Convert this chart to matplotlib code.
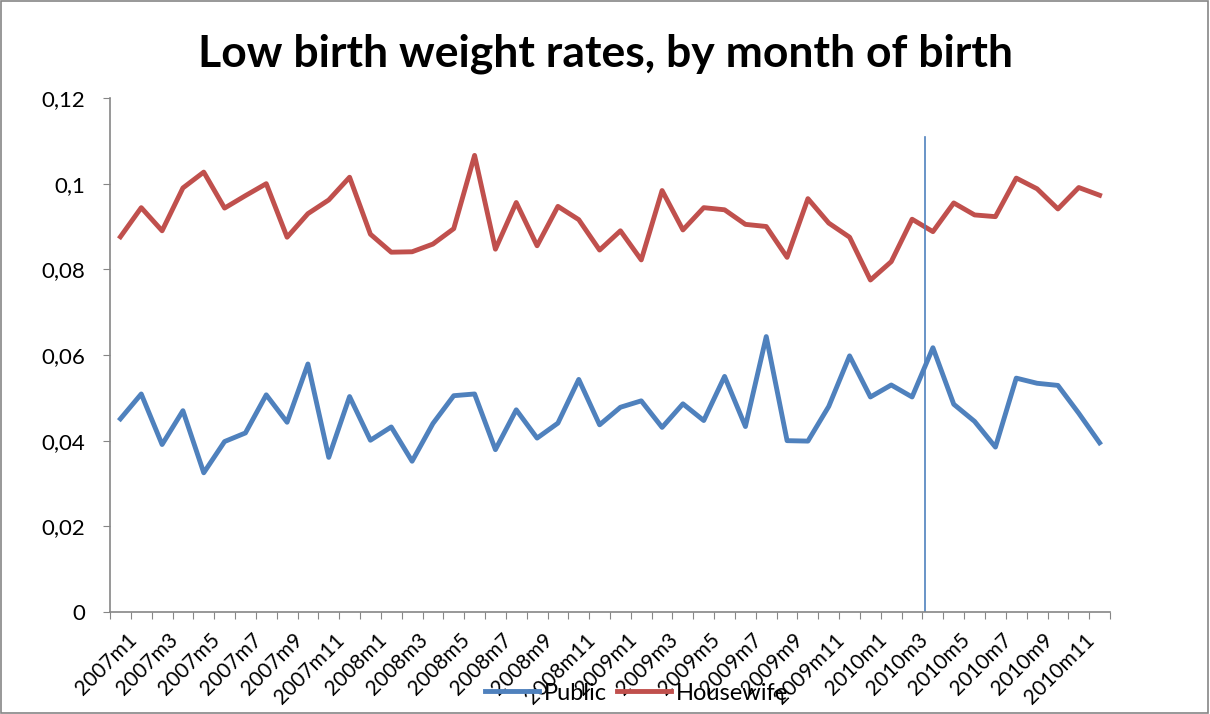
import numpy as np
import matplotlib.pyplot as plt
from matplotlib.patches import Rectangle
from matplotlib.transforms import ScaledTranslation

# months 2007m1 .. 2010m12
months = [f"{y}m{m}" for y in range(2007, 2011) for m in range(1, 13)]

public = [0.0451, 0.0509, 0.0391, 0.0470, 0.0325, 0.0398, 0.0418, 0.0507, 0.0443, 0.0579,
          0.0361, 0.0503, 0.0401, 0.0432, 0.0352, 0.0440, 0.0505, 0.0509, 0.0379, 0.0472,
          0.0406, 0.0441, 0.0543, 0.0437, 0.0478, 0.0493, 0.0431, 0.0486, 0.0447, 0.0550,
          0.0433, 0.0643, 0.0400, 0.0399, 0.0480, 0.0598, 0.0502, 0.0530, 0.0502, 0.0617,
          0.0485, 0.0445, 0.0385, 0.0546, 0.0534, 0.0529, 0.0464, 0.0395]

housewife = [0.0876, 0.0944, 0.0890, 0.0990, 0.1027, 0.0943, 0.0972, 0.1000, 0.0875, 0.0930,
             0.0962, 0.1015, 0.0882, 0.0840, 0.0841, 0.0859, 0.0895, 0.1066, 0.0847, 0.0956,
             0.0855, 0.0947, 0.0916, 0.0845, 0.0890, 0.0822, 0.0984, 0.0892, 0.0944, 0.0939,
             0.0905, 0.0900, 0.0828, 0.0965, 0.0908, 0.0875, 0.0775, 0.0818, 0.0917, 0.0888,
             0.0955, 0.0927, 0.0923, 0.1013, 0.0988, 0.0941, 0.0991, 0.0973]

# vertical marker line (category position, top value)
marker_x = 38.6
marker_top = 0.111

yticks = [0, 0.02, 0.04, 0.06, 0.08, 0.1, 0.12]
ytick_labels = ["0", "0,02", "0,04", "0,06", "0,08", "0,1", "0,12"]

plt.rcParams['font.family'] = ['Lato', 'DejaVu Sans']

fig = plt.figure(figsize=(12.1, 7.14), dpi=100)
ax = fig.add_axes([110 / 1210, 102 / 714, 1000 / 1210, 514 / 714])

x = np.arange(len(months))
ax.plot(x, public, color='#4F81BD', lw=3.5, solid_joinstyle='round', label='Public')
ax.plot(x, housewife, color='#C0504D', lw=3.5, solid_joinstyle='round', label='Housewife')
ax.plot([marker_x, marker_x], [0, marker_top], color='#4F81BD', lw=1.2)

ax.set_xlim(-0.5, len(months) - 0.5)
ax.set_ylim(0, 0.12)
ax.set_yticks(yticks)
ax.set_yticklabels(ytick_labels, fontsize=16)

# tick marks between categories, labels on every second month
ax.set_xticks(np.arange(-0.5, len(months), 1.0))
ax.set_xticklabels([])
ax.set_xticks(x[::2], minor=True)
ax.set_xticklabels(months[::2], minor=True, rotation=45, ha='right', va='top',
                   rotation_mode='anchor', fontsize=15)
ax.tick_params(axis='x', which='minor', length=0, pad=13)
ax.tick_params(axis='x', which='major', length=5, color='#868686', direction='out')
ax.tick_params(axis='y', length=5, color='#868686', direction='out', pad=13)
shift = ScaledTranslation(6 / 100, 0, fig.dpi_scale_trans)
for lab in ax.get_xticklabels(minor=True):
    lab.set_transform(lab.get_transform() + shift)

for s in ['top', 'right']:
    ax.spines[s].set_visible(False)
for s in ['left', 'bottom']:
    ax.spines[s].set_color('#868686')
    ax.spines[s].set_linewidth(1.2)

fig.text(0.5, (714 - 67) / 714, 'Low birth weight rates, by month of birth', fontsize=32,
         fontweight='bold', ha='center', va='baseline')

ax.legend(loc='center', bbox_to_anchor=(0.5265, -0.1576), ncol=2, frameon=False,
          fontsize=17, handlelength=2.3, columnspacing=0.45, handletextpad=0.2,
          borderpad=0, borderaxespad=0)

fig.patches.append(Rectangle((0.001, 0.001), 0.997, 0.997, transform=fig.transFigure,
                             fill=False, edgecolor='#868686', lw=1.2))

fig.savefig('out.png', dpi=100)
